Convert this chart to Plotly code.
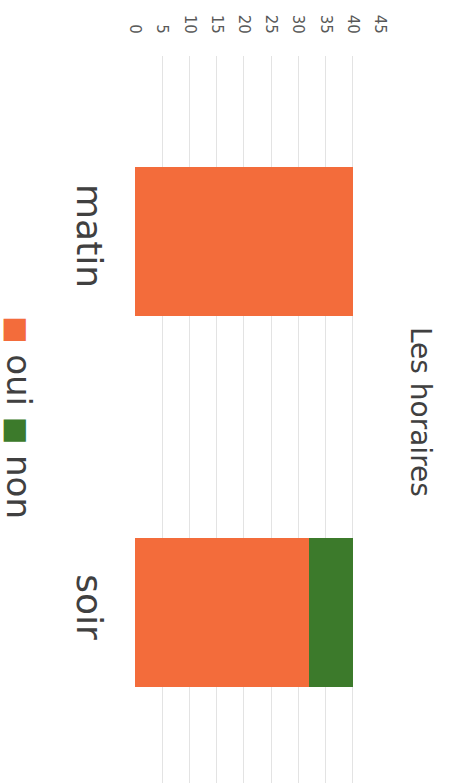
import plotly.graph_objects as go

categories = ["matin", "soir"]
oui = [40, 32]
non = [0, 8]
value_ticks = [0, 5, 10, 15, 20, 25, 30, 35, 40, 45]

ORANGE = "#F36C3B"
GREEN = "#3C7A2B"

fig = go.Figure()
fig.add_trace(go.Bar(y=categories, x=oui, name="oui", orientation="h",
                     marker=dict(color=ORANGE, line=dict(width=0))))
fig.add_trace(go.Bar(y=categories, x=non, name="non", orientation="h",
                     marker=dict(color=GREEN, line=dict(width=0))))

W, H = 450, 783
L, R, T, B = 135, 70, 56, 0

fig.update_layout(
    width=W, height=H,
    margin=dict(l=L, r=R, t=T, b=B, pad=0),
    barmode="stack", bargap=0.6,
    showlegend=False,
    paper_bgcolor="white", plot_bgcolor="white",
    font=dict(family="DejaVu Sans", color="#404040"),
    xaxis=dict(side="top", range=[0, 45], tickvals=value_ticks,
               tickangle=90, showgrid=True, gridcolor="#E3E3E3", gridwidth=1,
               zeroline=False, showline=False, ticks="",
               tickfont=dict(size=15, color="#595959"), ticklabelstandoff=19),
    yaxis=dict(range=[1.46, -0.5], tickangle=90, showgrid=False,
               zeroline=False, showline=False, ticks="",
               tickfont=dict(size=36, color="#404040"), ticklabelstandoff=21),
)

pw = W - L - R
ph = H - T - B
fig.add_annotation(text="Les horaires", textangle=90, showarrow=False,
                   xref="paper", yref="paper",
                   x=(421 - L) / pw, y=(H - 412) / ph,
                   xanchor="center", yanchor="middle",
                   font=dict(size=28, color="#404040"))
fig.add_annotation(
    text=(f"<span style='color:{ORANGE};font-size:29px'>■</span> oui "
          f"<span style='color:{GREEN};font-size:29px'>■</span> non"),
    textangle=90, showarrow=False, xref="paper", yref="paper",
    x=(19 - L) / pw, y=(H - 417) / ph, xanchor="center", yanchor="middle",
    font=dict(size=34, color="#404040"))

fig.write_html("out.html", config={"displayModeBar": False},
               post_script="document.body.style.margin='0';")
